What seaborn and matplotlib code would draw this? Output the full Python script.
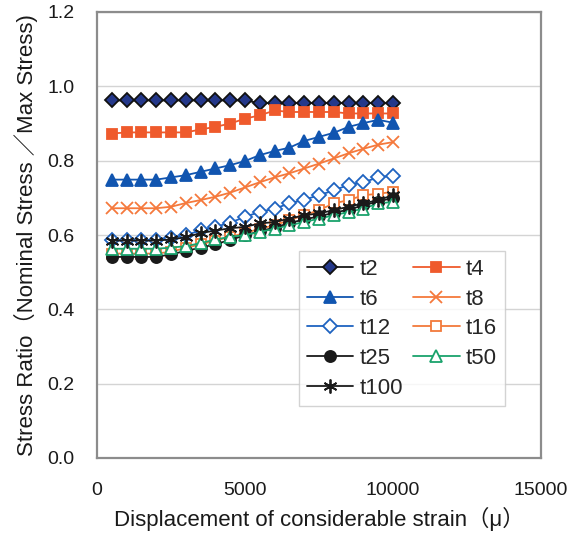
import matplotlib
matplotlib.use("Agg")
import matplotlib.pyplot as plt
import seaborn as sns

# ---- data ----
x_disp = [500, 1000, 1500, 2000, 2500, 3000, 3500, 4000, 4500, 5000,
          5500, 6000, 6500, 7000, 7500, 8000, 8500, 9000, 9500, 10000]

t2 = [0.962, 0.962, 0.962, 0.962, 0.962, 0.962, 0.962, 0.962, 0.962, 0.962,
      0.955, 0.955, 0.955, 0.955, 0.955, 0.955, 0.955, 0.955, 0.955, 0.954]
t4 = [0.873, 0.876, 0.876, 0.876, 0.876, 0.876, 0.884, 0.891, 0.900, 0.913,
      0.922, 0.935, 0.931, 0.931, 0.931, 0.931, 0.927, 0.927, 0.927, 0.927]
t6 = [0.749, 0.749, 0.749, 0.749, 0.755, 0.761, 0.770, 0.779, 0.788, 0.799,
      0.815, 0.826, 0.835, 0.853, 0.864, 0.875, 0.891, 0.901, 0.910, 0.902]
t8 = [0.672, 0.672, 0.672, 0.672, 0.676, 0.686, 0.694, 0.703, 0.714, 0.728,
      0.742, 0.755, 0.766, 0.779, 0.792, 0.806, 0.820, 0.832, 0.843, 0.850]
t12 = [0.586, 0.586, 0.586, 0.586, 0.593, 0.599, 0.613, 0.622, 0.633, 0.649,
       0.662, 0.671, 0.685, 0.695, 0.707, 0.720, 0.735, 0.742, 0.755, 0.760]
t16 = [0.550, 0.550, 0.550, 0.550, 0.555, 0.565, 0.575, 0.585, 0.595, 0.605,
       0.617, 0.626, 0.640, 0.653, 0.667, 0.685, 0.694, 0.707, 0.711, 0.716]
t25 = [0.541, 0.541, 0.541, 0.541, 0.548, 0.557, 0.566, 0.575, 0.587, 0.599,
       0.610, 0.620, 0.632, 0.642, 0.650, 0.660, 0.668, 0.680, 0.690, 0.700]
t50 = [0.563, 0.563, 0.563, 0.563, 0.566, 0.570, 0.578, 0.588, 0.595, 0.600,
       0.608, 0.617, 0.626, 0.635, 0.644, 0.653, 0.662, 0.671, 0.685, 0.689]
t100 = [0.585, 0.585, 0.585, 0.585, 0.588, 0.594, 0.605, 0.612, 0.618, 0.622,
        0.631, 0.635, 0.644, 0.653, 0.658, 0.667, 0.676, 0.685, 0.694, 0.707]

series_names = ["t2", "t4", "t6", "t8", "t12", "t16", "t25", "t50", "t100"]
series_vals = [t2, t4, t6, t8, t12, t16, t25, t50, t100]

x_ticks = [0, 5000, 10000, 15000]
y_ticks = [0.0, 0.2, 0.4, 0.6, 0.8, 1.0, 1.2]

# ---- styles ----
styles = {
    "t2":   dict(color="#1a1a1a", marker="D", mfc="#24388a", mec="#111111", ms=7.5),
    "t4":   dict(color="#ef5a2c", marker="s", mfc="#ef5a2c", mec="#ef5a2c", ms=7.5),
    "t6":   dict(color="#1155b0", marker="^", mfc="#1155b0", mec="#1155b0", ms=8.5),
    "t8":   dict(color="#f5793c", marker="x", mfc="#f5793c", mec="#f5793c", ms=8.5),
    "t12":  dict(color="#1f63c0", marker="D", mfc="white", mec="#1f63c0", ms=7),
    "t16":  dict(color="#f27a3a", marker="s", mfc="white", mec="#f27a3a", ms=7.5),
    "t25":  dict(color="#1a1a1a", marker="o", mfc="#1a1a1a", mec="#1a1a1a", ms=8),
    "t50":  dict(color="#1aa36c", marker="^", mfc="white", mec="#1aa36c", ms=8),
    "t100": dict(color="#1a1a1a", marker=(6, 2, 0), mfc="#1a1a1a", mec="#1a1a1a", ms=10),
}

sns.set_theme(style="white")
plt.rcParams["font.family"] = ["Liberation Sans", "Noto Sans CJK JP", "DejaVu Sans"]

FS_TICK = 14
FS_LABEL = 16
FS_LEG = 16

fig = plt.figure(figsize=(5.74, 5.40), dpi=100)
ax = fig.add_axes([97 / 574, 1 - 458 / 540, 444 / 574, 446 / 540])

for name, vals in zip(series_names, series_vals):
    st = styles[name]
    sns.lineplot(x=x_disp, y=vals, ax=ax, color=st["color"], marker=st["marker"],
                 markerfacecolor=st["mfc"], markeredgecolor=st["mec"],
                 markersize=st["ms"], markeredgewidth=1.3, linewidth=1.3,
                 label=name, legend=False)

ax.set_xlim(0, 15000)
ax.set_ylim(0, 1.2)
ax.set_xticks(x_ticks)
ax.set_xticklabels([str(v) for v in x_ticks])
ax.set_yticks(y_ticks)
ax.set_yticklabels([f"{v:.1f}" for v in y_ticks])
ax.yaxis.grid(True, color="#d4d4d4", linewidth=1.0)
ax.xaxis.grid(False)
ax.tick_params(axis="both", direction="in", length=4.5, color="#c8c8c8",
               labelsize=FS_TICK, colors="#1a1a1a")
ax.tick_params(axis="y", pad=16)
ax.tick_params(axis="x", pad=17)
for sp in ax.spines.values():
    sp.set_color("#8c8c8c")
    sp.set_linewidth(1.6)

ax.set_xlabel("Displacement of considerable strain（μ）", fontsize=FS_LABEL,
              labelpad=6, color="#1a1a1a")
ax.set_ylabel("Stress Ratio（Nominal Stress ／Max Stress)", fontsize=FS_LABEL,
              labelpad=7, color="#1a1a1a")

handles, labels = ax.get_legend_handles_labels()
order = ["t2", "t6", "t12", "t25", "t100", "t4", "t8", "t16", "t50"]
hmap = dict(zip(labels, handles))
leg = ax.legend([hmap[k] for k in order], order, ncol=2, loc="upper left",
                bbox_to_anchor=(0.455, 0.464), borderaxespad=0, fontsize=FS_LEG,
                frameon=True, fancybox=False, edgecolor="#c8c8c8",
                handlelength=2.1, handletextpad=0.27, columnspacing=0.45,
                labelspacing=0.39, borderpad=0.35)
leg.get_frame().set_linewidth(1.0)

fig.savefig("out.png", dpi=100)
